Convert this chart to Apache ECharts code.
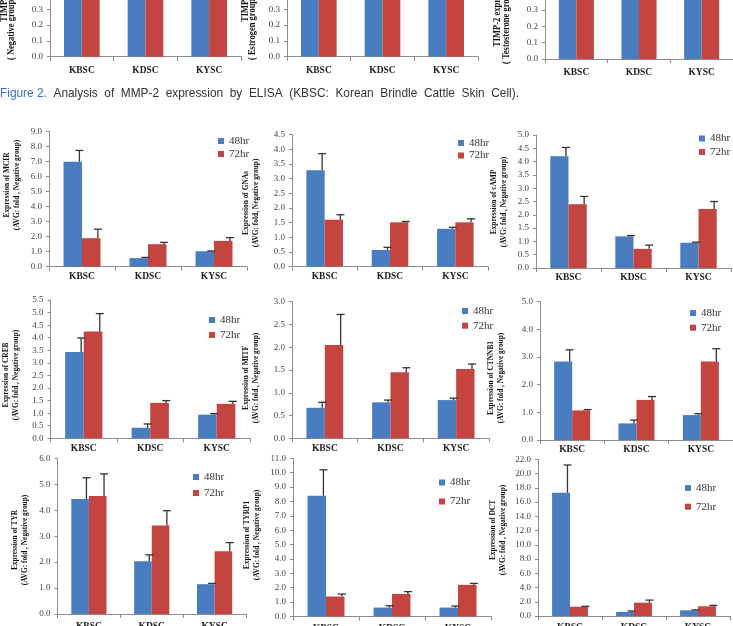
<!DOCTYPE html>
<html>
<head>
<meta charset="utf-8">
<script src="https://cdn.jsdelivr.net/npm/echarts@6/dist/echarts.min.js"></script>
<style>
  html, body { margin: 0; padding: 0; background: #fff; }
  #chart { width: 733px; height: 626px; }
</style>
</head>
<body>
<div id="chart"></div>
<script>
// categories / series
const cats = ['KBSC', 'KDSC', 'KYSC'];
const hr48 = '48hr';
const hr72 = '72hr';

// top strip (cropped TIMP-2 charts, only the lower part is visible)
const timpNeg48 = [0.62, 0.58, 0.60];
const timpNeg72 = [0.60, 0.57, 0.61];
const timpEst48 = [0.63, 0.59, 0.60];
const timpEst72 = [0.61, 0.58, 0.62];
const timpTes48 = [0.64, 0.60, 0.61];
const timpTes72 = [0.62, 0.59, 0.63];

// mean and SD per gene (48hr / 72hr)
const mc1r48 = [7.0, 0.57, 1.03],   mc1r48Sd = [0.75, 0.05, 0.02];
const mc1r72 = [1.9, 1.5, 1.72],    mc1r72Sd = [0.6, 0.12, 0.22];
const gnas48 = [3.28, 0.57, 1.29],  gnas48Sd = [0.57, 0.09, 0.05];
const gnas72 = [1.6, 1.51, 1.51],   gnas72Sd = [0.17, 0.03, 0.12];
const camp48 = [4.2, 1.19, 0.95],   camp48Sd = [0.33, 0.03, 0.02];
const camp72 = [2.4, 0.72, 2.22],   camp72Sd = [0.29, 0.14, 0.28];
const creb48 = [3.43, 0.42, 0.94],  creb48Sd = [0.56, 0.15, 0.04];
const creb72 = [4.25, 1.41, 1.37],  creb72Sd = [0.71, 0.09, 0.1];
const mitf48 = [0.67, 0.79, 0.84],  mitf48Sd = [0.12, 0.05, 0.04];
const mitf72 = [2.05, 1.45, 1.52],  mitf72Sd = [0.67, 0.1, 0.11];
const ctnn48 = [2.84, 0.6, 0.9],    ctnn48Sd = [0.42, 0.12, 0.05];
const ctnn72 = [1.07, 1.45, 2.84],  ctnn72Sd = [0.03, 0.12, 0.46];
const tyr48 = [4.43, 2.03, 1.15],   tyr48Sd = [0.82, 0.25, 0.03];
const tyr72 = [4.55, 3.41, 2.42],   tyr72Sd = [0.85, 0.57, 0.33];
const tyrp48 = [8.4, 0.62, 0.62],   tyrp48Sd = [1.8, 0.13, 0.11];
const tyrp72 = [1.39, 1.57, 2.2],   tyrp72Sd = [0.17, 0.16, 0.1];
const dct48 = [17.3, 0.57, 0.8],    dct48Sd = [3.9, 0.13, 0.05];
const dct72 = [1.3, 1.87, 1.36],    dct72Sd = [0.06, 0.36, 0.13];

// y axis ranges
const yMax = [9, 4.5, 5, 5.5, 3, 5, 6, 11, 22];
const yStep = [1, 0.5, 0.5, 0.5, 0.5, 1, 1, 1, 2];
const geneNames = ['MCIR', 'GNAs', 'cAMP', 'CREB', 'MITF', 'CTNNB1', 'TYR', 'TYRP1', 'DCT'];

const BLUE = '#4a7dc0';
const RED = '#c4443f';
const AXIS = '#8c8c8c';
const SERIF = '"Liberation Serif", "DejaVu Serif", serif';
const SANS = '"Liberation Sans Narrow", "Liberation Sans", sans-serif';
const BAR_W = 0.28;

const panels = [
  [mc1r48, mc1r48Sd, mc1r72, mc1r72Sd],
  [gnas48, gnas48Sd, gnas72, gnas72Sd],
  [camp48, camp48Sd, camp72, camp72Sd],
  [creb48, creb48Sd, creb72, creb72Sd],
  [mitf48, mitf48Sd, mitf72, mitf72Sd],
  [ctnn48, ctnn48Sd, ctnn72, ctnn72Sd],
  [tyr48, tyr48Sd, tyr72, tyr72Sd],
  [tyrp48, tyrp48Sd, tyrp72, tyrp72Sd],
  [dct48, dct48Sd, dct72, dct72Sd]
];

// layout: [left, right, top, bottom] of each plot area
const boxes = [
  [49, 247, 131.7, 266.7], [292, 488, 134.5, 266.7], [536, 731, 135, 268],
  [50.5, 250, 300, 438.3], [292, 489, 301.7, 438.3], [540, 733, 301.7, 440],
  [57.5, 246, 458.3, 614], [293, 491, 458.3, 616.5], [538, 730, 459.3, 616]
];
const xLabelMargin = [5, 5, 5, 5, 5, 5, 8, 7, 7];
// legend: [left, first row centre y, row spacing]
const legendPos = [
  [218, 141, 13], [458, 143, 12.5], [699, 138.5, 13.5],
  [209, 320, 15], [462, 311, 14.7], [690, 313, 14.7],
  [193, 477, 16], [439, 482.5, 19], [685, 488, 18.7]
];
// y title centre [x, y]
const titlePos = [
  [12, 185], [251, 203], [499, 202],
  [10.5, 375], [251, 378], [496, 378],
  [20, 540], [252, 535], [497.5, 530]
];

// top strip boxes [left, right, bottom, max]
const topBoxes = [[50, 241, 56.7, 0.359], [287, 478, 56.7, 0.359], [545, 733, 59, 0.362]];
const topData = [[timpNeg48, timpNeg72], [timpEst48, timpEst72], [timpTes48, timpTes72]];

const grid = [], xAxis = [], yAxis = [], series = [], legend = [], graphic = [];

function addAxes(l, r, t, b, max, step, labelMargin) {
  grid.push({ left: l, top: t, width: r - l, height: b - t, containLabel: false, outerBoundsMode: 'none' });
  xAxis.push({
    type: 'category', data: cats, gridIndex: grid.length - 1,
    axisLine: { lineStyle: { color: AXIS, width: 1 } },
    axisTick: { show: true, length: 4, lineStyle: { color: AXIS } },
    axisLabel: { margin: labelMargin, fontFamily: SERIF, fontWeight: 'bold', fontSize: 9.5, color: '#222' }
  });
  yAxis.push({
    type: 'value', gridIndex: grid.length - 1, min: 0, max: max, interval: step,
    splitLine: { show: false },
    axisLine: { show: true, lineStyle: { color: AXIS, width: 1 } },
    axisTick: { show: true, length: 3, lineStyle: { color: AXIS } },
    axisLabel: {
      margin: 7, fontFamily: SERIF, fontSize: 9, color: '#444',
      showMaxLabel: max % step < 1e-9 || Math.abs(max % step - step) < 1e-9,
      formatter: function (v) { return v.toFixed(1); }
    }
  });
  return grid.length - 1;
}

function renderErr(params, api) {
  const ci = api.value(0), v = api.value(1), sd = api.value(2), s = api.value(3);
  const band = api.size([1, 0])[0];
  const bw = band * BAR_W;
  const base = api.coord([ci, v]);
  const top = api.coord([ci, v + sd]);
  const x = base[0] + (s === 0 ? -bw / 2 : bw / 2) + bw * 0.36;
  const st = { stroke: '#333', lineWidth: 1.3 };
  return {
    type: 'group',
    children: [
      { type: 'line', shape: { x1: x, y1: base[1], x2: x, y2: top[1] }, style: st },
      { type: 'line', shape: { x1: x - 4, y1: top[1], x2: x + 4, y2: top[1] }, style: st }
    ]
  };
}

// top strip
topBoxes.forEach(function (bx, i) {
  const gi = addAxes(bx[0], bx[1], 0, bx[2], bx[3], 0.1, 9);
  series.push({ type: 'bar', name: hr48, xAxisIndex: gi, yAxisIndex: gi, data: topData[i][0],
    barWidth: BAR_W * 100 + '%', barGap: '0%', itemStyle: { color: BLUE }, silent: true });
  series.push({ type: 'bar', name: hr72, xAxisIndex: gi, yAxisIndex: gi, data: topData[i][1],
    barWidth: BAR_W * 100 + '%', barGap: '0%', itemStyle: { color: RED }, silent: true });
});

// 3 x 3 panels
panels.forEach(function (p, i) {
  const bx = boxes[i];
  const gi = addAxes(bx[0], bx[1], bx[2], bx[3], yMax[i], yStep[i], xLabelMargin[i]);
  series.push({ type: 'bar', name: hr48, xAxisIndex: gi, yAxisIndex: gi, data: p[0],
    barWidth: BAR_W * 100 + '%', barGap: '0%', itemStyle: { color: BLUE }, silent: true });
  series.push({ type: 'bar', name: hr72, xAxisIndex: gi, yAxisIndex: gi, data: p[2],
    barWidth: BAR_W * 100 + '%', barGap: '0%', itemStyle: { color: RED }, silent: true });
  const errData = [];
  for (let k = 0; k < cats.length; k++) {
    errData.push([k, p[0][k], p[1][k], 0]);
    errData.push([k, p[2][k], p[3][k], 1]);
  }
  series.push({ type: 'custom', xAxisIndex: gi, yAxisIndex: gi, data: errData,
    encode: { x: 0, y: 1 }, renderItem: renderErr, z: 5, silent: true });

  const lp = legendPos[i];
  legend.push({
    left: lp[0], top: lp[1] - 6, orient: 'vertical', padding: 0,
    itemWidth: 6, itemHeight: 6, itemGap: lp[2] - 12, selectedMode: false,
    data: [{ name: hr48, icon: 'rect' }, { name: hr72, icon: 'rect' }],
    textStyle: { fontFamily: SERIF, fontSize: 11, color: '#333', lineHeight: 12 }
  });

  const tp = titlePos[i];
  graphic.push({
    type: 'text', x: tp[0], y: tp[1], rotation: Math.PI / 2, scaleX: 0.82, silent: true,
    style: {
      text: 'Expression of ' + geneNames[i] + '\n' + (i === 1 ? '(AVG: fold, Negative group)' : '(AVG: fold , Negative group)'),
      textAlign: 'center', textVerticalAlign: 'middle',
      fontFamily: SERIF, fontWeight: 'bold', fontSize: 9, lineHeight: 10, fill: '#111'
    }
  });
});

// cropped titles of the top strip: [x, start y, text] for both lines
const topTitles = [
  [4, 22, 'TIMP-2 expression', 11.5, 60, '( Negative group)'],
  [245, 22, 'TIMP-2 expression', 252.5, 60, '( Estrogen group)'],
  [497, 47, 'TIMP-2 expression', 506, 64, '( Testosterone group)']
];
topTitles.forEach(function (t) {
  const font = { fontFamily: SERIF, fontWeight: 'bold', fontSize: 10, fill: '#111', textVerticalAlign: 'middle', textAlign: 'left' };
  graphic.push({ type: 'text', x: t[0], y: t[1], rotation: Math.PI / 2, scaleX: 0.85, silent: true,
    style: Object.assign({ text: t[2] }, font) });
  graphic.push({ type: 'text', x: t[3], y: t[4], rotation: Math.PI / 2, scaleX: 0.85, silent: true,
    style: Object.assign({ text: t[5] }, font) });
});

// caption (condensed, justified look)
graphic.push({
  type: 'text', x: 0, y: 93, scaleX: 0.88, silent: true,
  style: {
    text: '{a|Figure 2.}{b|  Analysis  of  MMP-2  expression  by  ELISA  (KBSC:  Korean  Brindle  Cattle  Skin  Cell).}',
    textVerticalAlign: 'middle',
    rich: {
      a: { fill: '#3d6dc2', fontSize: 13.5, fontFamily: SANS },
      b: { fill: '#333', fontSize: 13.5, fontFamily: SANS }
    }
  }
});

const chart = echarts.init(document.getElementById('chart'), null, { renderer: 'canvas' });
chart.setOption({
  animation: false,
  backgroundColor: '#fff',
  grid: grid,
  xAxis: xAxis,
  yAxis: yAxis,
  legend: legend,
  series: series,
  graphic: graphic
});
</script>
</body>
</html>
